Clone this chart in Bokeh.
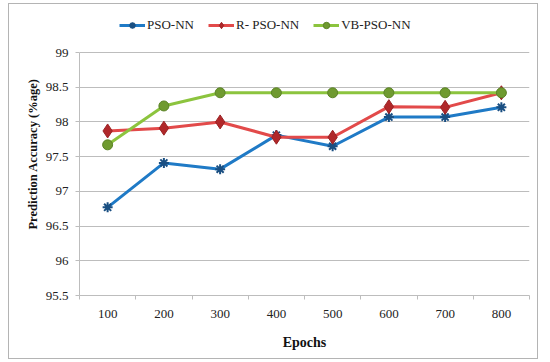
from bokeh.plotting import figure
from bokeh.models import Range1d, FixedTicker, NumeralTickFormatter, Legend, LegendItem
from bokeh.embed import file_html
from bokeh.resources import INLINE

# ---- data ----
epochs = ["100", "200", "300", "400", "500", "600", "700", "800"]
pso_nn = [96.77, 97.41, 97.32, 97.81, 97.65, 98.07, 98.07, 98.21]
r_pso_nn = [97.87, 97.91, 98.00, 97.78, 97.78, 98.22, 98.21, 98.42]
vb_pso_nn = [97.67, 98.23, 98.42, 98.42, 98.42, 98.42, 98.42, 98.42]
y_ticks = [95.5, 96, 96.5, 97, 97.5, 98, 98.5, 99]

FONT = "Liberation Serif"
GRID = "#bdbdbd"

xs = [i + 1 for i in range(len(epochs))]

# frame extends above the 99 gridline so that the legend (drawn inside the frame) is visible
y_top = 95.5 + 283 * 3.5 / 243

p = figure(width=530, height=356, output_backend="svg", toolbar_location=None,
           x_range=Range1d(0.5, len(epochs) + 0.5), y_range=Range1d(y_ticks[0], y_top),
           min_border_left=70, min_border_right=10, min_border_top=8, min_border_bottom=65)
p.styles = {"margin-left": "8px", "margin-top": "3px", "border": "1px solid #b4b4b4"}
p.outline_line_color = None
p.background_fill_color = "white"
p.border_fill_color = "white"

# x axis: labels at centers, ticks at category boundaries
p.xaxis.ticker = FixedTicker(ticks=xs, minor_ticks=[x - 0.5 for x in xs] + [len(xs) + 0.5])
p.xaxis.major_label_overrides = {x: lab for x, lab in zip(xs, epochs)}
p.xaxis.major_tick_out = 0
p.xaxis.major_tick_in = 0
p.xaxis.minor_tick_out = 4
p.xaxis.minor_tick_in = 0
p.xaxis.minor_tick_line_color = GRID
p.xaxis.axis_line_color = GRID
p.xaxis.major_label_standoff = 10
p.xaxis.axis_label = "Epochs"
p.xaxis.axis_label_standoff = 14
p.xgrid.grid_line_color = None

p.yaxis.ticker = FixedTicker(ticks=y_ticks)
p.yaxis.bounds = (y_ticks[0], y_ticks[-1])
p.yaxis.formatter = NumeralTickFormatter(format="0.[0]")
p.yaxis.major_tick_out = 4
p.yaxis.major_tick_in = 0
p.yaxis.minor_tick_line_color = None
p.yaxis.major_tick_line_color = GRID
p.yaxis.axis_line_color = GRID
p.yaxis.major_label_standoff = 7
p.yaxis.axis_label = "Prediction Accuracy (%age)"
p.yaxis.axis_label_standoff = 3
p.ygrid.grid_line_color = GRID
p.ygrid.ticker = FixedTicker(ticks=y_ticks)

for ax in (p.xaxis, p.yaxis):
    ax.major_label_text_font = FONT
    ax.major_label_text_font_size = "13px"
    ax.major_label_text_color = "#222222"
    ax.axis_label_text_font = FONT
    ax.axis_label_text_font_style = "bold"
    ax.axis_label_text_color = "#111111"
p.xaxis.axis_label_text_font_size = "14px"
p.yaxis.axis_label_text_font_size = "12.5px"

l1 = p.line(xs, pso_nn, line_color="#1f7ac6", line_width=3)
m1 = p.scatter(xs, pso_nn, marker="asterisk", size=10, line_color="#1a4f82", line_width=2)
l2 = p.line(xs, r_pso_nn, line_color="#e24a4a", line_width=3)
m2 = p.scatter(xs, r_pso_nn, marker="diamond", size=14, fill_color="#b0282a", line_color="#9a2224", line_width=1)
l3 = p.line(xs, vb_pso_nn, line_color="#8cc43e", line_width=3)
m3 = p.scatter(xs, vb_pso_nn, marker="circle", size=10, fill_color="#6f9a30", line_color="#5b8326", line_width=1)

legend = Legend(items=[
    LegendItem(label="PSO-NN", renderers=[l1, m1]),
    LegendItem(label="R- PSO-NN", renderers=[l2, m2]),
    LegendItem(label="VB-PSO-NN", renderers=[l3, m3]),
], orientation="horizontal", location=(40, 262))
legend.border_line_color = None
legend.background_fill_alpha = 0
legend.label_text_font = FONT
legend.label_text_font_size = "13px"
legend.label_text_color = "#222222"
legend.glyph_width = 26
legend.glyph_height = 16
legend.label_height = 16
legend.label_standoff = 2
legend.spacing = 14
legend.padding = 0
legend.margin = 0
p.add_layout(legend, "center")

open("out.html", "w").write(file_html(p, INLINE))
